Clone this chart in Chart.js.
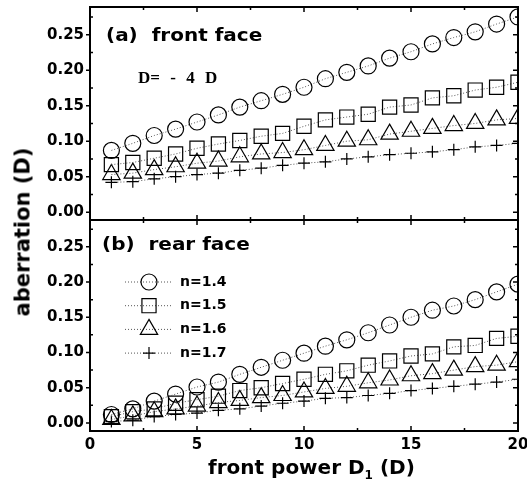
<!DOCTYPE html>
<html lang="en">
<head>
  <meta charset="UTF-8" />
  <title>Aberration vs front power</title>
  <script src="https://cdn.jsdelivr.net/npm/chart.js"></script>
  <style>
    * { margin: 0; padding: 0; box-sizing: border-box; }
    body { width: 527px; height: 485px; background: #fff; position: relative; overflow: hidden; font-family: 'DejaVu Sans', sans-serif; }
    .panel { position: absolute; left: 0; width: 527px; }
    .panel canvas { display: block; }
    #topWrap { top: 0; height: 221px; z-index: 2; }
    #botWrap { top: 220px; height: 265px; z-index: 1; }
    .note { position: absolute; z-index: 3; white-space: pre; font-weight: bold; line-height: 1; color: #000; }
    .label-a { left: 106px; top: 26px; font-size: 18px; transform: scaleX(1.11); transform-origin: left center; }
    .label-d { left: 138px; top: 69px; font-size: 17px; font-family: 'Liberation Serif', serif; word-spacing: 6px; }
    .label-b { left: 102px; top: 235px; font-size: 18px; transform: scaleX(1.11); transform-origin: left center; }
    .ytitle { left: 23px; top: 232px; font-size: 21px; transform: translate(-50%, -50%) rotate(-90deg); }
    .xtitle { left: 208px; top: 457px; font-size: 20px; }
    .xtitle sub { font-size: 12px; vertical-align: -5px; }
  </style>
</head>
<body>
  <div class="panel" id="topWrap"><canvas id="topChart" width="527" height="221"></canvas></div>
  <div class="panel" id="botWrap"><canvas id="botChart" width="527" height="265"></canvas></div>
  <div class="note label-a">(a)  front face</div>
  <div class="note label-d">D= - 4 D</div>
  <div class="note label-b">(b)  rear face</div>
  <div class="note ytitle">aberration (D)</div>
  <div class="note xtitle">front power D<sub>1</sub> (D)</div>

  <script>
    // front power D1 (D)
    const xValues = [1, 2, 3, 4, 5, 6, 7, 8, 9, 10, 11, 12, 13, 14, 15, 16, 17, 18, 19, 20];

    // (a) front face, D = -4 D
    const frontN14 = [0.087, 0.097, 0.108, 0.117, 0.127, 0.137, 0.148, 0.157, 0.166, 0.176, 0.188, 0.197, 0.206, 0.217, 0.226, 0.237, 0.246, 0.254, 0.265, 0.275];
    const frontN15 = [0.067, 0.070, 0.076, 0.082, 0.090, 0.096, 0.101, 0.107, 0.111, 0.121, 0.130, 0.134, 0.138, 0.148, 0.151, 0.161, 0.164, 0.172, 0.176, 0.183];
    const frontN16 = [0.053, 0.055, 0.060, 0.064, 0.069, 0.072, 0.078, 0.082, 0.084, 0.088, 0.094, 0.100, 0.102, 0.110, 0.114, 0.118, 0.122, 0.125, 0.130, 0.132];
    const frontN17 = [0.042, 0.043, 0.047, 0.050, 0.053, 0.055, 0.059, 0.062, 0.066, 0.069, 0.071, 0.075, 0.078, 0.081, 0.083, 0.085, 0.088, 0.092, 0.094, 0.097];

    // (b) rear face
    const rearN14 = [0.012, 0.020, 0.031, 0.041, 0.051, 0.058, 0.069, 0.079, 0.089, 0.099, 0.109, 0.118, 0.128, 0.139, 0.150, 0.160, 0.166, 0.175, 0.186, 0.197];
    const rearN15 = [0.009, 0.016, 0.020, 0.028, 0.033, 0.038, 0.046, 0.050, 0.056, 0.062, 0.069, 0.074, 0.082, 0.088, 0.095, 0.098, 0.108, 0.110, 0.120, 0.123];
    const rearN16 = [0.005, 0.010, 0.016, 0.020, 0.024, 0.029, 0.032, 0.036, 0.039, 0.044, 0.049, 0.052, 0.057, 0.061, 0.067, 0.070, 0.075, 0.080, 0.082, 0.087];
    const rearN17 = [0.002, 0.004, 0.009, 0.012, 0.014, 0.018, 0.020, 0.024, 0.028, 0.031, 0.035, 0.036, 0.039, 0.042, 0.046, 0.049, 0.052, 0.055, 0.058, 0.062];

    const seriesNames = ['n=1.4', 'n=1.5', 'n=1.6', 'n=1.7'];
    const xTicks = [0, 5, 10, 15, 20];
    const yTicks = [0, 0.05, 0.10, 0.15, 0.20, 0.25];

    const markers = [
      { pointStyle: 'circle', radius: 8 },
      { pointStyle: 'rect', radius: 10 },
      { pointStyle: 'triangle', radius: 10 },
      { pointStyle: 'cross', radius: 6 }
    ];

    Chart.defaults.font.family = "'DejaVu Sans', sans-serif";
    Chart.defaults.font.weight = 'bold';
    Chart.defaults.font.size = 15;
    Chart.defaults.color = '#000';

    function makeDatasets(list) {
      return list.map((vals, i) => ({
        label: seriesNames[i],
        data: xValues.map((x, j) => ({ x: x, y: vals[j] })),
        borderColor: '#555',
        borderWidth: 1,
        borderDash: [1, 2],
        pointStyle: markers[i].pointStyle,
        pointRadius: markers[i].radius,
        pointBorderColor: '#000',
        pointBorderWidth: 1.2,
        pointBackgroundColor: 'rgba(0,0,0,0)',
        tension: 0,
        clip: 0
      }));
    }

    // box around plot area with small tick marks
    const framePlugin = {
      id: 'frame',
      afterDatasetsDraw(chart) {
        const { ctx, chartArea: a, scales } = chart;
        const xs = scales.x, ys = scales.y;
        ctx.save();
        ctx.strokeStyle = '#000';
        ctx.lineWidth = 1.5;
        for (let v = 0; v <= 20; v += 2.5) {
          const px = xs.getPixelForValue(v);
          const len = v % 5 === 0 ? 5 : 3;
          ctx.beginPath();
          ctx.moveTo(px, a.top); ctx.lineTo(px, a.top + len);
          ctx.moveTo(px, a.bottom); ctx.lineTo(px, a.bottom - len);
          ctx.stroke();
        }
        for (let k = 0; k <= 11; k++) {
          const v = k * 0.025;
          const py = ys.getPixelForValue(v);
          const major = k % 2 === 0;
          ctx.beginPath();
          if (major) { ctx.moveTo(a.left - 4, py); ctx.lineTo(a.left, py); }
          else { ctx.moveTo(a.left, py); ctx.lineTo(a.left + 3, py); }
          ctx.moveTo(a.right, py); ctx.lineTo(a.right - (major ? 5 : 3), py);
          ctx.stroke();
        }
        ctx.lineWidth = 2;
        ctx.strokeRect(a.left, a.top, a.right - a.left, a.bottom - a.top);
        ctx.restore();
      }
    };

    // legend drawn as line + marker + label, like the original
    const legendPlugin = {
      id: 'lineLegend',
      afterDraw(chart) {
        const ctx = chart.ctx;
        ctx.save();
        chart.data.datasets.forEach((ds, i) => {
          const y = 62 + i * 23.7;
          ctx.strokeStyle = '#555';
          ctx.lineWidth = 1;
          ctx.setLineDash([1, 2]);
          ctx.beginPath();
          ctx.moveTo(125, y); ctx.lineTo(173, y);
          ctx.stroke();
          ctx.setLineDash([]);
          ctx.strokeStyle = '#000';
          ctx.lineWidth = 1.2;
          ctx.fillStyle = 'rgba(0,0,0,0)';
          Chart.helpers.drawPoint(ctx, { pointStyle: ds.pointStyle, radius: ds.pointRadius, rotation: 0, borderWidth: 1.2 }, 149, y);
          ctx.fillStyle = '#000';
          ctx.font = "bold 14px 'DejaVu Sans', sans-serif";
          ctx.textBaseline = 'middle';
          ctx.textAlign = 'left';
          ctx.fillText(ds.label, 180, y);
        });
        ctx.restore();
      }
    };

    function yAxis(min, max) {
      return {
        type: 'linear',
        min: min,
        max: max,
        grid: { display: false, drawTicks: false },
        border: { display: false },
        afterBuildTicks: (s) => { s.ticks = yTicks.map(v => ({ value: v })); },
        afterFit: (s) => { s.width = 90; s.paddingTop = 0; s.paddingBottom = 0; },
        ticks: { padding: 6, callback: (v) => Number(v).toFixed(2) }
      };
    }

    new Chart(document.getElementById('topChart'), {
      type: 'line',
      data: { datasets: makeDatasets([frontN14, frontN15, frontN16, frontN17]) },
      options: {
        responsive: false,
        animation: false,
        layout: { autoPadding: false, padding: { top: 7, right: 9, bottom: 1, left: 0 } },
        plugins: { legend: { display: false }, tooltip: { enabled: false } },
        scales: {
          x: { type: 'linear', min: 0, max: 20, display: false },
          y: yAxis(-0.011, 0.289)
        }
      },
      plugins: [framePlugin]
    });

    new Chart(document.getElementById('botChart'), {
      type: 'line',
      data: { datasets: makeDatasets([rearN14, rearN15, rearN16, rearN17]) },
      options: {
        responsive: false,
        animation: false,
        layout: { autoPadding: false, padding: { top: 0, right: 9, bottom: 0, left: 0 } },
        plugins: { legend: { display: false }, tooltip: { enabled: false } },
        scales: {
          x: {
            type: 'linear',
            min: 0,
            max: 20,
            grid: { display: false, drawTicks: false },
            border: { display: false },
            afterBuildTicks: (s) => { s.ticks = xTicks.map(v => ({ value: v })); },
            afterFit: (s) => { s.height = 54; s.paddingLeft = 0; s.paddingRight = 0; },
            ticks: { padding: 5, maxRotation: 0 }
          },
          y: yAxis(-0.0114, 0.288)
        }
      },
      plugins: [framePlugin, legendPlugin]
    });
  </script>
</body>
</html>
